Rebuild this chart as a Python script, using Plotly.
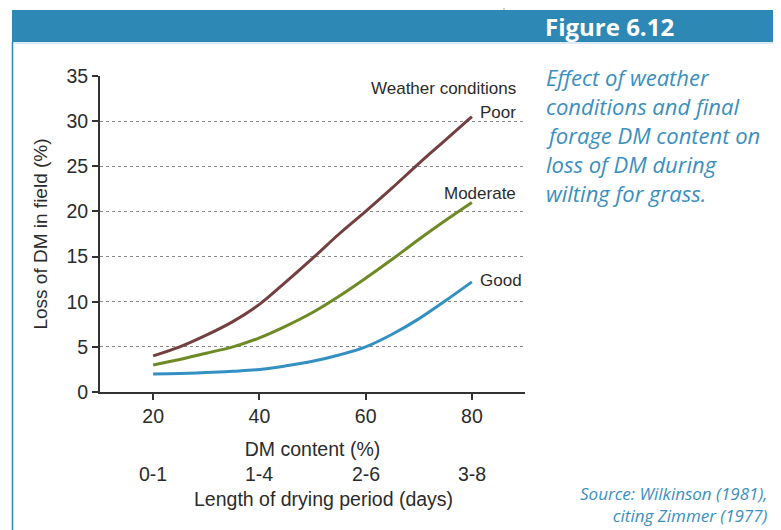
import plotly.graph_objects as go

dm_content = [20, 25, 30, 35, 40, 45, 50, 55, 60, 65, 70, 75, 80]
poor = [4.0, 5.0, 6.3, 7.8, 9.7, 12.2, 14.8, 17.5, 20.0, 22.6, 25.3, 27.9, 30.5]
moderate = [3.0, 3.6, 4.3, 5.0, 6.0, 7.3, 8.8, 10.6, 12.6, 14.7, 16.9, 19.0, 21.0]
good = [2.0, 2.05, 2.15, 2.3, 2.5, 2.9, 3.4, 4.1, 5.0, 6.4, 8.1, 10.1, 12.2]
drying_days = ["0-1", "1-4", "2-6", "3-8"]
drying_pos = [20, 40, 60, 80]
y_ticks = [0, 5, 10, 15, 20, 25, 30, 35]
x_ticks = [20, 40, 60, 80]

# the page body has an 8px margin; figure is sized so it fills the window
OFF = 8
W, H = 781 - OFF, 530 - OFF
ML, MR, MT, MB = 100 - OFF, 256, 76 - OFF, 138
PW, PH = W - ML - MR, H - MT - MB


def px(X):
    return (X - OFF - ML) / PW


def py(Y):
    return (H - MB - (Y - OFF)) / PH


BLUE = "#2e88b5"
TXT = "#2b2b2b"
FONT = "Liberation Sans"
CAP = "#3a8fc0"

fig = go.Figure()
fig.add_trace(go.Scatter(x=dm_content, y=poor, mode="lines", name="Poor",
                         line=dict(color="#74403f", width=3, shape="spline")))
fig.add_trace(go.Scatter(x=dm_content, y=moderate, mode="lines", name="Moderate",
                         line=dict(color="#6d8a25", width=3, shape="spline")))
fig.add_trace(go.Scatter(x=dm_content, y=good, mode="lines", name="Good",
                         line=dict(color="#3390c3", width=3, shape="spline")))

shapes = [
    dict(type="rect", xref="paper", yref="paper", x0=px(12), x1=px(776), y0=py(42), y1=py(10),
         fillcolor=BLUE, line=dict(width=0), layer="below"),
    dict(type="line", xref="paper", yref="paper", x0=px(12), x1=px(776), y0=py(43), y1=py(43),
         line=dict(color="#bcd9ea", width=1)),
    dict(type="line", xref="paper", yref="paper", x0=px(12.5), x1=px(12.5), y0=py(42), y1=py(535),
         line=dict(color=BLUE, width=1.5)),
    dict(type="line", xref="paper", yref="paper", x0=px(775.5), x1=px(775.5), y0=py(42), y1=py(535),
         line=dict(color=BLUE, width=1.2)),
    dict(type="line", xref="paper", yref="paper", x0=px(504), x1=px(504), y0=py(8), y1=py(10),
         line=dict(color="#b5b98a", width=1.2)),
]

annotations = [
    dict(text="<b>Figure 6.12</b>", xref="paper", yref="paper", x=px(676), y=py(26),
         xanchor="right", yanchor="middle", showarrow=False,
         font=dict(family="Open Sans", size=24, color="white")),
    dict(text="Weather conditions", xref="paper", yref="paper", x=px(518), y=py(88),
         xanchor="right", yanchor="middle", showarrow=False,
         font=dict(family=FONT, size=17, color=TXT)),
    dict(text="Poor", xref="paper", yref="paper", x=px(518), y=py(112),
         xanchor="right", yanchor="middle", showarrow=False,
         font=dict(family=FONT, size=17, color=TXT)),
    dict(text="Moderate", xref="paper", yref="paper", x=px(518), y=py(193),
         xanchor="right", yanchor="middle", showarrow=False,
         font=dict(family=FONT, size=17, color=TXT)),
    dict(text="Good", xref="paper", yref="paper", x=px(478), y=py(280),
         xanchor="left", yanchor="middle", showarrow=False,
         font=dict(family=FONT, size=17, color=TXT)),
    dict(text="Length of drying period (days)", xref="paper", yref="paper", x=px(323), y=py(499),
         xanchor="center", yanchor="middle", showarrow=False,
         font=dict(family=FONT, size=19.5, color=TXT)),
    dict(text="<i>Source: Wilkinson (1981),<br>citing Zimmer (1977)</i>",
         xref="paper", yref="paper", x=px(770), y=py(529), align="right",
         xanchor="right", yanchor="bottom", showarrow=False,
         font=dict(family="Open Sans", size=17, color=CAP)),
]

caption = ["Effect of weather", "conditions and final", "forage DM content on",
           "loss of DM during", "wilting for grass."]
for i, line in enumerate(caption):
    annotations.append(dict(text="<i>" + line + "</i>", xref="paper", yref="paper",
                            x=px(544), y=py(77 + 29 * i), xanchor="left", yanchor="middle",
                            showarrow=False,
                            font=dict(family="Open Sans", size=22, color=CAP)))

for pos, lab in zip(drying_pos, drying_days):
    annotations.append(dict(text=lab, xref="x", yref="paper", x=pos, y=py(474),
                            xanchor="center", yanchor="middle", showarrow=False,
                            font=dict(family=FONT, size=19.5, color=TXT)))

fig.update_layout(
    width=W, height=H,
    margin=dict(l=ML, r=MR, t=MT, b=MB),
    paper_bgcolor="white", plot_bgcolor="white",
    showlegend=False,
    shapes=shapes, annotations=annotations,
    xaxis=dict(range=[10, 90], tickvals=x_ticks, ticks="outside", ticklen=6, tickwidth=1.5,
               tickcolor="#333", showline=True, linecolor="#333", linewidth=2,
               showgrid=False, zeroline=False,
               tickfont=dict(family=FONT, size=19.5, color=TXT),
               title=dict(text="DM content (%)", standoff=16,
                          font=dict(family=FONT, size=19.5, color=TXT))),
    yaxis=dict(range=[0, 35], tickvals=y_ticks, ticks="outside", ticklen=6, tickwidth=1.5,
               tickcolor="#333", showline=True, linecolor="#333", linewidth=2,
               showgrid=True, gridcolor="#8a8a8a", griddash="dot", gridwidth=1,
               zeroline=False,
               tickfont=dict(family=FONT, size=19.5, color=TXT),
               title=dict(text="Loss of DM in field (%)", standoff=14,
                          font=dict(family=FONT, size=19, color=TXT))),
)

fig.write_html("out.html")
